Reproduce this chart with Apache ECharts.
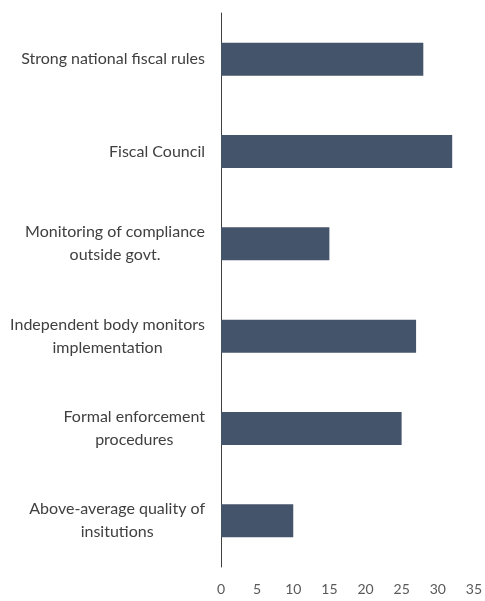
<!DOCTYPE html>
<html>
<head>
<meta charset="utf-8">
<script src="https://cdn.jsdelivr.net/npm/echarts@6/dist/echarts.min.js"></script>
<style>
  html, body { margin: 0; padding: 0; background: #ffffff; }
  #chart { width: 485px; height: 601px; }
</style>
</head>
<body>
<div id="chart"></div>
<script>
// Institutional features, listed top to bottom
const categories = [
  'Strong national fiscal rules',
  'Fiscal Council',
  'Monitoring of compliance\noutside govt.',
  'Independent body monitors\nimplementation',
  'Formal enforcement\nprocedures',
  'Above-average quality of\ninsitutions'
];
const values = [28, 32, 15, 27, 25, 10];
const xTicks = { min: 0, max: 35, interval: 5 };

const chart = echarts.init(document.getElementById('chart'));
chart.setOption({
  animation: false,
  backgroundColor: '#ffffff',
  grid: { left: 221, right: 10, top: 13, bottom: 34, containLabel: false },
  xAxis: {
    type: 'value',
    min: xTicks.min,
    max: xTicks.max,
    interval: xTicks.interval,
    axisLine: { show: false },
    axisTick: { show: false },
    splitLine: { show: false },
    axisLabel: {
      color: '#595959',
      fontFamily: 'Lato',
      fontSize: 14,
      margin: 15
    }
  },
  yAxis: {
    type: 'category',
    data: categories,
    inverse: true,
    axisLine: { show: true, lineStyle: { color: '#404040', width: 1 } },
    axisTick: { show: false },
    axisLabel: {
      color: '#404040',
      fontFamily: 'Lato',
      fontSize: 16,
      margin: 16,
      lineHeight: 23,
      align: 'right',
      formatter: function (v) {
        return v.split('\n').map(function (l) { return '{c|' + l + '}'; }).join('\n');
      },
      rich: {
        c: { align: 'center', color: '#404040', fontFamily: 'Lato', fontSize: 16, lineHeight: 23 }
      }
    }
  },
  series: [{
    type: 'bar',
    data: values,
    barWidth: 33,
    itemStyle: { color: '#44546a' }
  }]
});
</script>
</body>
</html>
